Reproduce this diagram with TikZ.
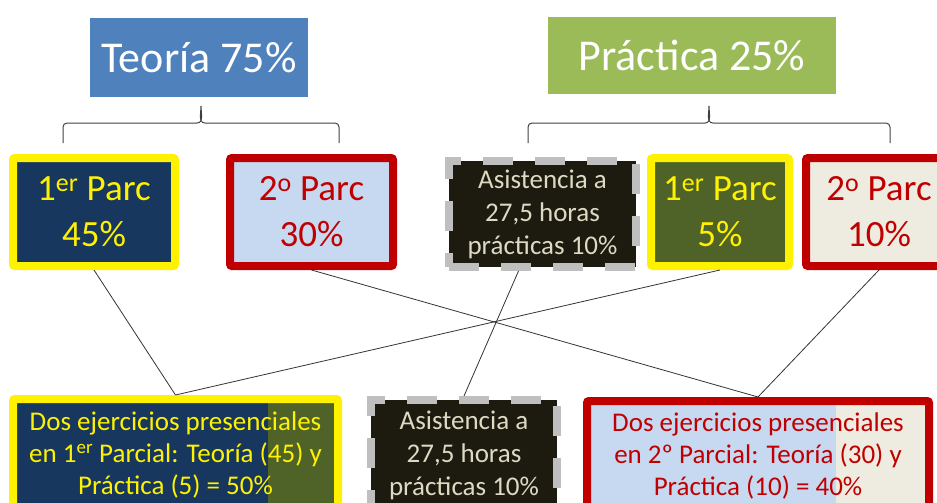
\documentclass[tikz,border=0pt]{standalone}
\usepackage{fontspec}
\setmainfont{Carlito}

\definecolor{teoblue}{HTML}{4F81BD}
\definecolor{pragreen}{HTML}{9BBB59}
\definecolor{navyfill}{HTML}{17375E}
\definecolor{olivefill}{HTML}{4F6228}
\definecolor{lbluefill}{HTML}{C6D9F1}
\definecolor{creamfill}{HTML}{EEECE1}
\definecolor{darkfill}{HTML}{1D1B10}
\definecolor{dashgray}{HTML}{BFBFBF}
\definecolor{parcred}{HTML}{C00000}
\definecolor{asistext}{HTML}{DDD9C3}

\tikzset{
  title/.style={inner sep=0pt, text=white, font=\fontsize{44}{50}\selectfont},
  box/.style={draw, line width=8pt, rounded corners=2pt, inner sep=0pt, align=center},
  yelbox/.style={box, draw=yellow, text=yellow},
  redbox/.style={box, draw=parcred, text=parcred},
  asisbox/.style={box, draw=dashgray, fill=darkfill, text=asistext, rounded corners=0pt,
    dash pattern=on 30pt off 22pt, font=\fontsize{27}{33}\selectfont},
  parc/.style={font=\fontsize{37}{46}\selectfont, minimum height=108pt},
  sumtext/.style={font=\fontsize{27}{32}\selectfont},
  splitfill/.style 2 args={path picture={\fill[#1] ([xshift=-#2]path picture bounding box.north east)
    rectangle (path picture bounding box.south east);}},
  bracket/.style={line width=1pt, black!75},
  link/.style={line width=0.8pt, black!80}
}

\begin{document}
\begin{tikzpicture}[x=1pt,y=-1pt]
\useasboundingbox (0,0) rectangle (937,503);

% headings
\node[title, fill=teoblue, minimum width=218pt, minimum height=79pt] (teo) at (199,57.5) {Teoría 75\%};
\node[title, fill=pragreen, minimum width=288pt, minimum height=77pt] (pra) at (692,55.5) {Práctica 25\%};

% braces
\draw[bracket] (63,143) -- (63,127) to[out=90,in=180] (67,123) -- (197,123)
      to[out=0,in=-90] (201,106) to[out=-90,in=180] (205,123) -- (335,123)
      to[out=0,in=90] (339,127) -- (339,143);
\draw[bracket] (528,143) -- (528,127) to[out=90,in=180] (532,123) -- (705,123)
      to[out=0,in=-90] (709,106) to[out=-90,in=180] (713,123) -- (886,123)
      to[out=0,in=90] (890,127) -- (890,143);

% parciales
\node[yelbox, parc, fill=navyfill, minimum width=162pt] (teoA) at (94,212) {1\textsuperscript{er} Parc\\45\%};
\node[redbox, parc, fill=lbluefill, minimum width=163pt] (teoB) at (311.5,212) {2\textsuperscript{o} Parc\\30\%};
\node[asisbox, minimum width=187pt, minimum height=106pt] (asisA) at (542.5,214) {Asistencia a\\27,5 horas\\prácticas 10\%};
\node[yelbox, parc, fill=olivefill, minimum width=138pt] (praA) at (720,212) {1\textsuperscript{er} Parc\\5\%};
\node[redbox, parc, fill=creamfill, minimum width=146pt] (praB) at (879,212) {2\textsuperscript{o} Parc\\10\%};

% ejercicios
\node[yelbox, sumtext, fill=navyfill, splitfill={olivefill}{70pt}, minimum width=325pt, minimum height=112pt] (ejA) at (175.5,455)
  {Dos ejercicios presenciales\\en 1\textsuperscript{er} Parcial: Teoría (45) y\\Práctica (5) = 50\%};
\node[asisbox, minimum width=186pt, minimum height=110pt] (asisB) at (464,455) {Asistencia a\\27,5 horas\\prácticas 10\%};
\node[redbox, sumtext, fill=lbluefill, splitfill={creamfill}{93pt}, minimum width=342pt, minimum height=110pt] (ejB) at (758,456)
  {Dos ejercicios presenciales\\en 2º Parcial: Teoría (30) y\\Práctica (10) = 40\%};

% links
\draw[link] (teoA.south) -- (ejA.north);
\draw[link] (praA.south) -- (ejA.north);
\draw[link] (teoB.south) -- (ejB.north);
\draw[link] (praB.south) -- (ejB.north);
\draw[link] ([xshift=-24pt]asisA.south) -- (asisB.north);

\end{tikzpicture}
\end{document}
